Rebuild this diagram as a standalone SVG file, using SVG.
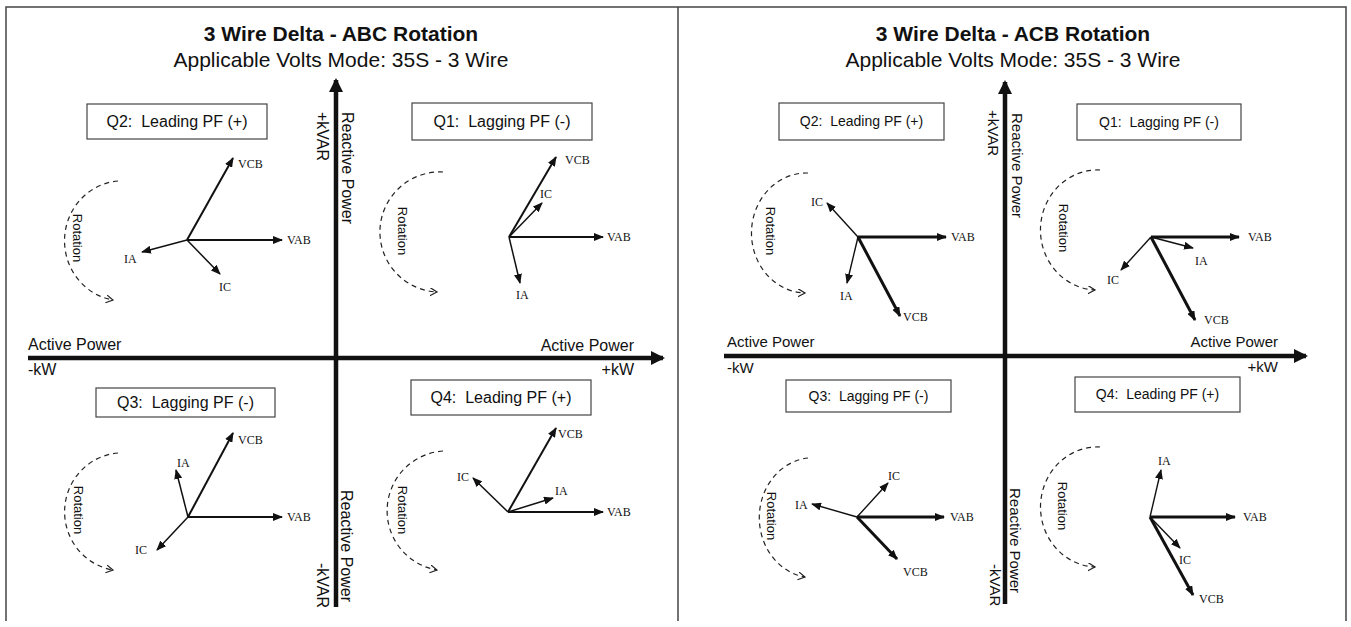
<svg xmlns="http://www.w3.org/2000/svg" width="1351" height="627" viewBox="0 0 1351 627">
<style>
.t{font-family:"Liberation Sans",Arial,sans-serif;fill:#111}
.title{font-size:21px;font-weight:bold;text-anchor:middle}
.sub{font-size:21px;text-anchor:middle}
.ax{font-size:16px}
.axr{font-size:15px}
.qt{font-size:16px;text-anchor:middle;white-space:pre}
.qtr{font-size:14px;text-anchor:middle;white-space:pre}
.rot{font-size:13px;text-anchor:middle}
.lb{font-family:"Liberation Serif","Times New Roman",serif;font-size:12px;fill:#111}
.box{fill:#fff;stroke:#444;stroke-width:1.2}
.axis{stroke:#111;stroke-width:4.5;fill:none}
.v{stroke:#111;stroke-width:2;fill:none;marker-end:url(#ah)}
.i{stroke:#111;stroke-width:1.5;fill:none;marker-end:url(#ah)}
.vr{stroke:#111;stroke-width:3;fill:none;marker-end:url(#ah)}
.ir{stroke:#111;stroke-width:1.4;fill:none;marker-end:url(#ah)}
.arc{stroke:#222;stroke-width:1.2;fill:none;stroke-dasharray:5 4;marker-end:url(#chev)}
</style>
<defs>
<marker id="ah" markerUnits="userSpaceOnUse" markerWidth="10" markerHeight="8" refX="9" refY="4" orient="auto"><path d="M0,0 L10,4 L0,8 z" fill="#111"/></marker>
<marker id="axh" markerUnits="userSpaceOnUse" markerWidth="14" markerHeight="14" refX="12" refY="7" orient="auto"><path d="M0,0 L14,7 L0,14 z" fill="#111"/></marker>
<marker id="chev" markerUnits="userSpaceOnUse" markerWidth="10" markerHeight="10" refX="7" refY="4" orient="auto"><path d="M0,0 L7,4 L0,8" fill="none" stroke="#222" stroke-width="1.2" stroke-dasharray="none"/></marker>
</defs>
<rect width="1351" height="627" fill="#fff"/>
<path d="M6,621 V7 H1346 V621 M678,7 V621" fill="none" stroke="#444" stroke-width="1.5"/>

<g id="left-panel">
<text class="t title" x="341" y="41">3 Wire Delta - ABC Rotation</text>
<text class="t sub" x="341" y="67">Applicable Volts Mode: 35S - 3 Wire</text>
</g>
<g id="right-panel">
<text class="t title" x="1013" y="41">3 Wire Delta - ACB Rotation</text>
<text class="t sub" x="1013" y="67">Applicable Volts Mode: 35S - 3 Wire</text>
</g>

<g id="connectors">
<line class="axis" x1="336" y1="607" x2="336" y2="80" marker-end="url(#axh)"/>
<line class="axis" x1="28" y1="358" x2="663" y2="358" marker-end="url(#axh)"/>
<line class="axis" x1="1005" y1="604" x2="1005" y2="82" marker-end="url(#axh)"/>
<line class="axis" x1="724" y1="356" x2="1306" y2="356" marker-end="url(#axh)"/>
</g>

<g id="axis-labels">
<text class="t ax" transform="translate(317,112) rotate(90)">+kVAR</text>
<text class="t ax" transform="translate(342,112) rotate(90)">Reactive Power</text>
<text class="t ax" transform="translate(317,563) rotate(90)">-kVAR</text>
<text class="t ax" transform="translate(341,490) rotate(90)">Reactive Power</text>
<text class="t ax" x="28" y="350">Active Power</text>
<text class="t ax" x="28" y="375">-kW</text>
<text class="t ax" x="634" y="351" text-anchor="end">Active Power</text>
<text class="t ax" x="634" y="375" text-anchor="end">+kW</text>
<text class="t axr" transform="translate(988,110) rotate(90)">+kVAR</text>
<text class="t axr" transform="translate(1012,113) rotate(90)">Reactive Power</text>
<text class="t axr" transform="translate(990,564) rotate(90)">-kVAR</text>
<text class="t axr" transform="translate(1010,488) rotate(90)">Reactive Power</text>
<text class="t axr" x="727" y="347">Active Power</text>
<text class="t axr" x="727" y="373">-kW</text>
<text class="t axr" x="1278" y="347" text-anchor="end">Active Power</text>
<text class="t axr" x="1278" y="372" text-anchor="end">+kW</text>
</g>

<!-- Left panel quadrants -->
<g id="L-Q2">
<rect class="box" x="87" y="104" width="180" height="35"/>
<text class="t qt" x="177" y="127" xml:space="preserve">Q2:  Leading PF (+)</text>
<path class="arc" d="M118,181 A58,60 0 0 0 113,300"/>
<text class="t rot" transform="translate(72.5,238) rotate(90)">Rotation</text>
<line class="v" x1="187" y1="240" x2="233" y2="158"/>
<line class="v" x1="187" y1="240" x2="282" y2="240"/>
<line class="i" x1="187" y1="240" x2="142" y2="252"/>
<line class="i" x1="187" y1="240" x2="220" y2="274"/>
<text class="lb" x="238" y="168">VCB</text>
<text class="lb" x="287" y="244">VAB</text>
<text class="lb" x="124" y="263">IA</text>
<text class="lb" x="219" y="291">IC</text>
</g>
<g id="L-Q1">
<rect class="box" x="412" y="103" width="180" height="37"/>
<text class="t qt" x="502" y="127" xml:space="preserve">Q1:  Lagging PF (-)</text>
<path class="arc" d="M443,172 A60,60 0 0 0 437,292"/>
<text class="t rot" transform="translate(397.5,231) rotate(90)">Rotation</text>
<line class="v" x1="509" y1="237" x2="556" y2="157"/>
<line class="i" x1="509" y1="237" x2="542" y2="203"/>
<line class="v" x1="509" y1="237" x2="603" y2="237"/>
<line class="i" x1="509" y1="237" x2="520" y2="283"/>
<text class="lb" x="565" y="164">VCB</text>
<text class="lb" x="540" y="198">IC</text>
<text class="lb" x="607" y="241">VAB</text>
<text class="lb" x="516" y="299">IA</text>
</g>
<g id="L-Q3">
<rect class="box" x="96" y="388" width="179" height="29"/>
<text class="t qt" x="185.5" y="408" xml:space="preserve">Q3:  Lagging PF (-)</text>
<path class="arc" d="M118,453 A58,59 0 0 0 113,570"/>
<text class="t rot" transform="translate(73.5,510) rotate(90)">Rotation</text>
<line class="v" x1="188" y1="517" x2="233" y2="433"/>
<line class="i" x1="188" y1="517" x2="176" y2="470"/>
<line class="v" x1="188" y1="517" x2="282" y2="517"/>
<line class="i" x1="188" y1="517" x2="157" y2="550"/>
<text class="lb" x="238" y="444">VCB</text>
<text class="lb" x="177" y="467">IA</text>
<text class="lb" x="287" y="521">VAB</text>
<text class="lb" x="135" y="554">IC</text>
</g>
<g id="L-Q4">
<rect class="box" x="411" y="380" width="180" height="35"/>
<text class="t qt" x="501" y="403" xml:space="preserve">Q4:  Leading PF (+)</text>
<path class="arc" d="M443,451 A60,60 0 0 0 437,570"/>
<text class="t rot" transform="translate(397.5,510) rotate(90)">Rotation</text>
<line class="v" x1="508" y1="512" x2="556" y2="428"/>
<line class="i" x1="508" y1="512" x2="473" y2="478"/>
<line class="i" x1="508" y1="512" x2="553" y2="498"/>
<line class="v" x1="508" y1="512" x2="603" y2="512"/>
<text class="lb" x="558" y="438">VCB</text>
<text class="lb" x="457" y="481">IC</text>
<text class="lb" x="555" y="495">IA</text>
<text class="lb" x="607" y="516">VAB</text>
</g>

<!-- Right panel quadrants -->
<g id="R-Q2">
<rect class="box" x="779" y="103" width="165" height="37"/>
<text class="t qtr" x="861.5" y="126" xml:space="preserve">Q2:  Leading PF (+)</text>
<path class="arc" d="M808,173 A55,60 0 0 0 805,293"/>
<text class="t rot" transform="translate(765.5,231) rotate(90)">Rotation</text>
<line class="vr" x1="858" y1="237" x2="946" y2="237"/>
<line class="ir" x1="858" y1="237" x2="827" y2="203"/>
<line class="ir" x1="858" y1="237" x2="847" y2="283"/>
<line class="vr" x1="858" y1="237" x2="900" y2="316"/>
<text class="lb" x="951" y="241">VAB</text>
<text class="lb" x="811" y="206">IC</text>
<text class="lb" x="840" y="300">IA</text>
<text class="lb" x="903" y="321">VCB</text>
</g>
<g id="R-Q1">
<rect class="box" x="1077" y="104" width="164" height="36"/>
<text class="t qtr" x="1159" y="127" xml:space="preserve">Q1:  Lagging PF (-)</text>
<path class="arc" d="M1100,170 A57,60 0 0 0 1095,290"/>
<text class="t rot" transform="translate(1058.5,228) rotate(90)">Rotation</text>
<line class="vr" x1="1151" y1="237" x2="1239" y2="237"/>
<line class="ir" x1="1151" y1="237" x2="1193" y2="248"/>
<line class="ir" x1="1151" y1="237" x2="1121" y2="270"/>
<line class="vr" x1="1151" y1="237" x2="1195" y2="320"/>
<text class="lb" x="1248" y="241">VAB</text>
<text class="lb" x="1195" y="265">IA</text>
<text class="lb" x="1107" y="284">IC</text>
<text class="lb" x="1204" y="324">VCB</text>
</g>
<g id="R-Q3">
<rect class="box" x="786" y="380" width="165" height="32"/>
<text class="t qtr" x="868.5" y="401" xml:space="preserve">Q3:  Lagging PF (-)</text>
<path class="arc" d="M808,458 A54,60 0 0 0 805,577"/>
<text class="t rot" transform="translate(766.5,516) rotate(90)">Rotation</text>
<line class="vr" x1="857" y1="517" x2="944" y2="517"/>
<line class="ir" x1="857" y1="517" x2="888" y2="483"/>
<line class="ir" x1="857" y1="517" x2="812" y2="504"/>
<line class="vr" x1="857" y1="517" x2="897" y2="559"/>
<text class="lb" x="950" y="521">VAB</text>
<text class="lb" x="888" y="480">IC</text>
<text class="lb" x="795" y="509">IA</text>
<text class="lb" x="903" y="576">VCB</text>
</g>
<g id="R-Q4">
<rect class="box" x="1075" y="377" width="165" height="35"/>
<text class="t qtr" x="1157.5" y="399" xml:space="preserve">Q4:  Leading PF (+)</text>
<path class="arc" d="M1100,447 A57,60 0 0 0 1095,567"/>
<text class="t rot" transform="translate(1057.5,506) rotate(90)">Rotation</text>
<line class="vr" x1="1150" y1="517" x2="1235" y2="517"/>
<line class="ir" x1="1150" y1="517" x2="1161" y2="470"/>
<line class="ir" x1="1150" y1="517" x2="1180" y2="548"/>
<line class="vr" x1="1150" y1="517" x2="1193" y2="595"/>
<text class="lb" x="1243" y="521">VAB</text>
<text class="lb" x="1158" y="465">IA</text>
<text class="lb" x="1179" y="564">IC</text>
<text class="lb" x="1199" y="603">VCB</text>
</g>
</svg>
